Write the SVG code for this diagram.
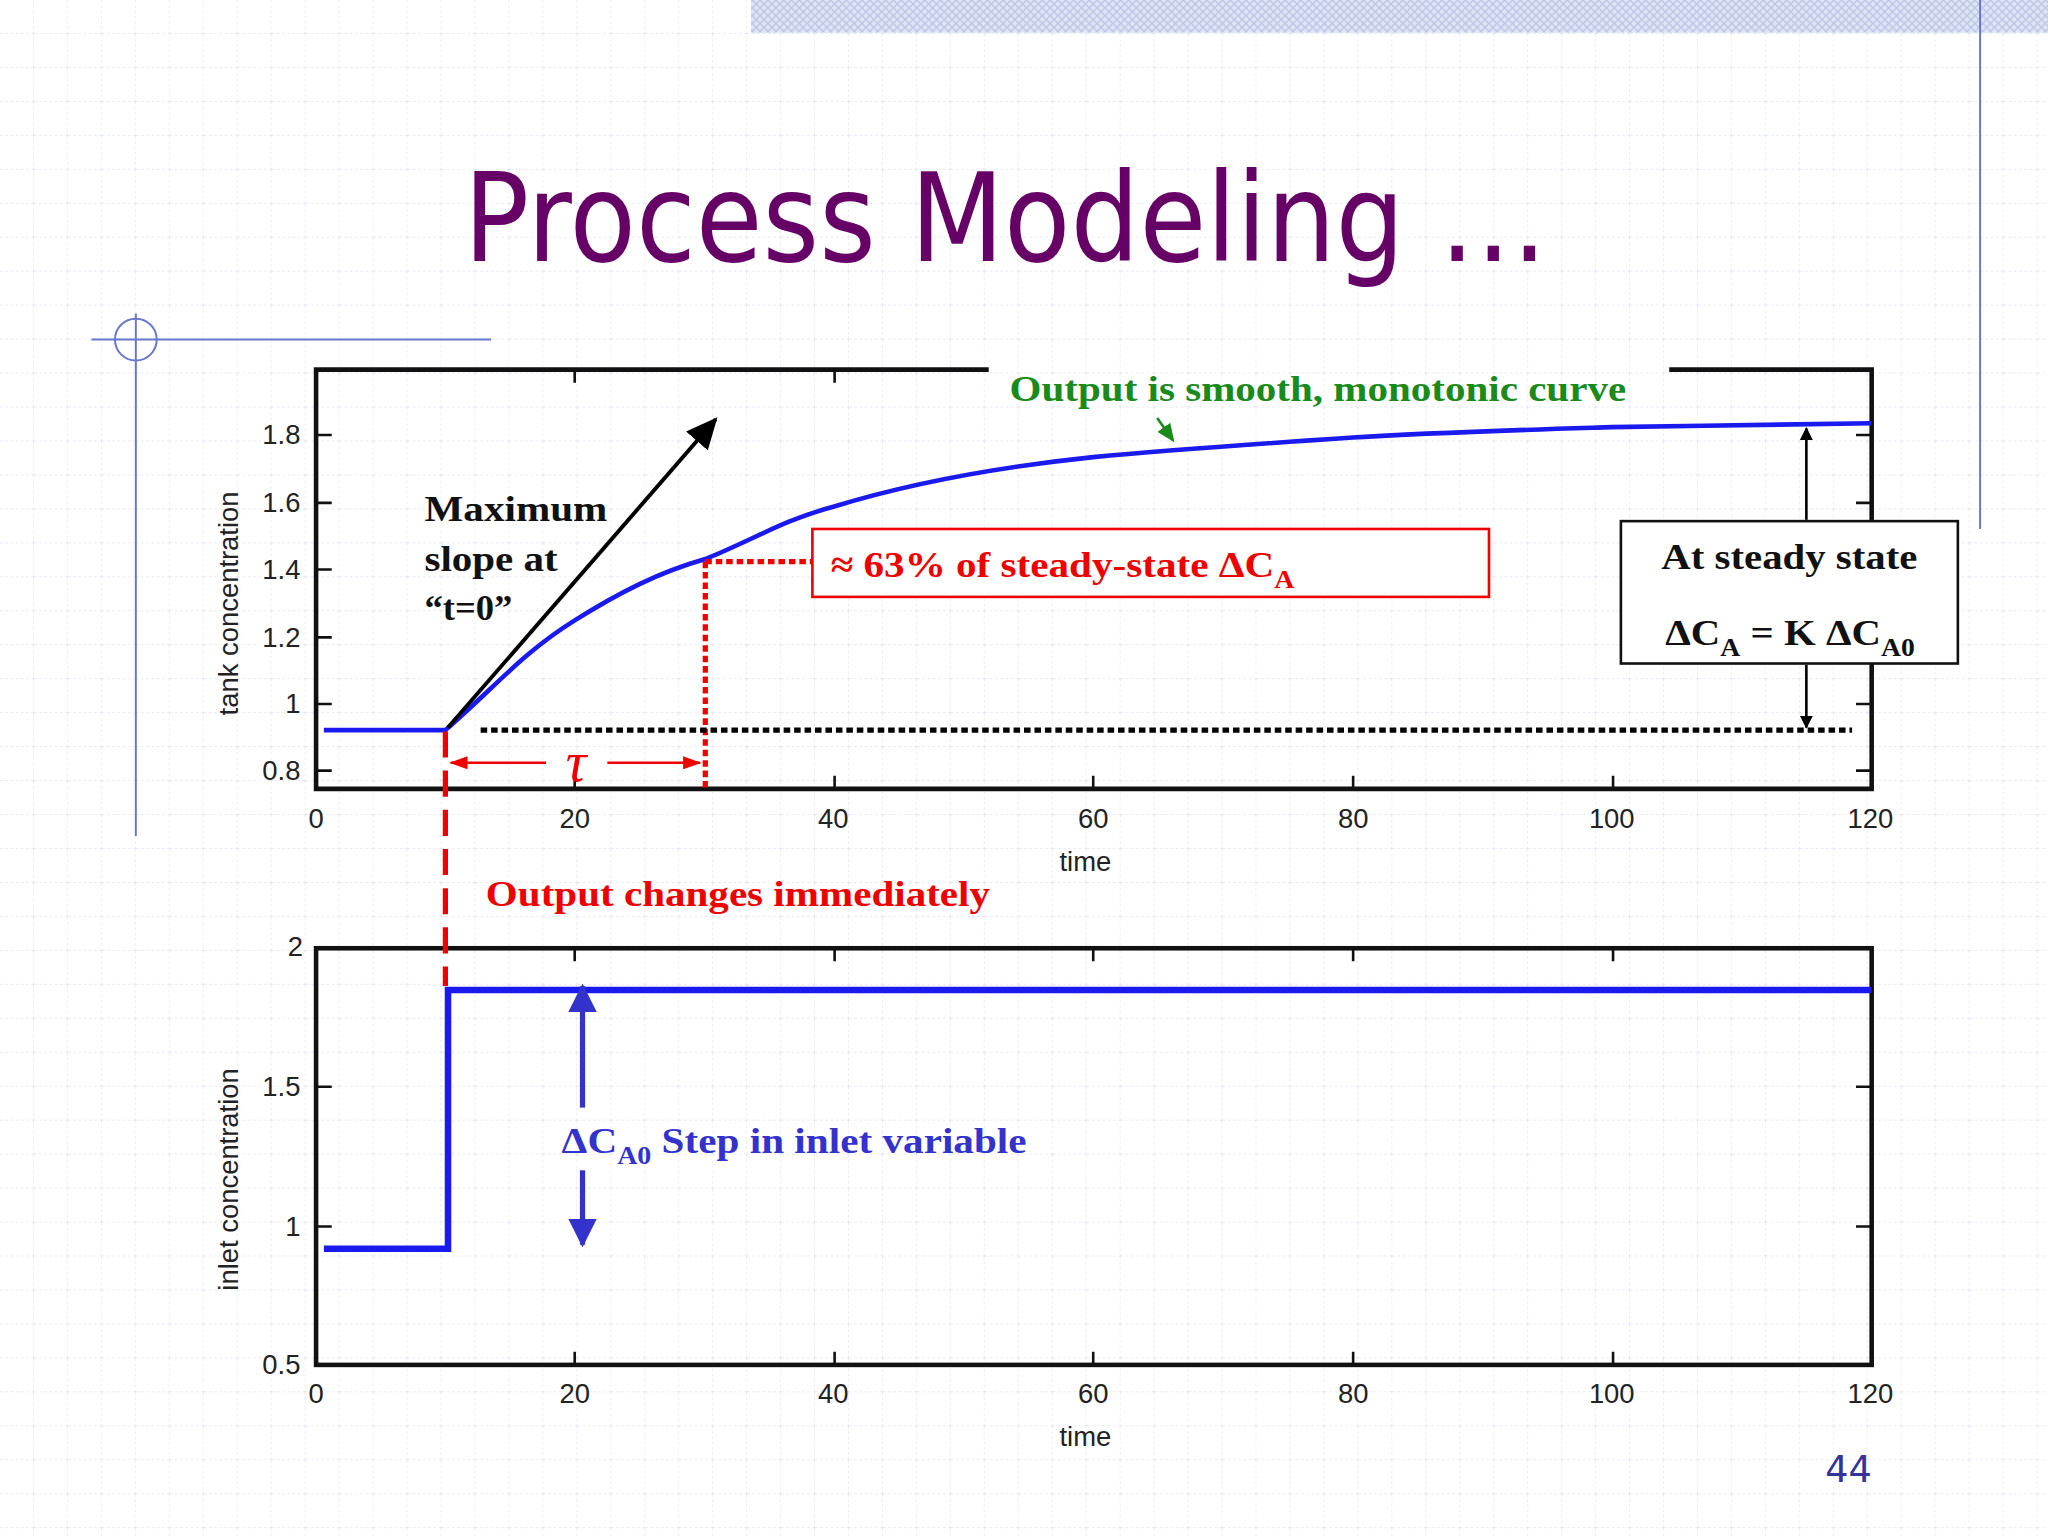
<svg xmlns="http://www.w3.org/2000/svg" width="2048" height="1536" viewBox="0 0 2048 1536">
<defs>
<pattern id="grid" width="26" height="26" patternUnits="userSpaceOnUse"><path d="M26 0V26M0 26H26" stroke="#dde2ef" stroke-width="1" stroke-dasharray="2 2" fill="none"/></pattern>
<pattern id="hatch" width="6" height="6" patternUnits="userSpaceOnUse"><rect width="6" height="6" fill="#dfe5f5"/><path d="M0 0L6 6M6 0L0 6" stroke="#b8c4e6" stroke-width="1"/></pattern>
<marker id="ak" markerWidth="10" markerHeight="10" refX="9" refY="5" orient="auto" markerUnits="userSpaceOnUse"><path d="M0 0L10 5L0 10z" fill="#000"/></marker>
<marker id="ar" markerWidth="14" markerHeight="10" refX="13" refY="5" orient="auto" markerUnits="userSpaceOnUse"><path d="M0 0L14 5L0 10z" fill="#e00"/></marker>
<marker id="ab" markerWidth="22" markerHeight="22" refX="20" refY="11" orient="auto" markerUnits="userSpaceOnUse"><path d="M0 0L22 11L0 22z" fill="#3333cc"/></marker>
<marker id="abig" markerWidth="24" markerHeight="22" refX="22" refY="11" orient="auto" markerUnits="userSpaceOnUse"><path d="M0 0L24 11L0 22z" fill="#000"/></marker>
<marker id="ag" markerWidth="14" markerHeight="12" refX="12" refY="6" orient="auto" markerUnits="userSpaceOnUse"><path d="M0 0L14 6L0 12z" fill="#1a8a1a"/></marker>
</defs>
<style>
.ax{font-family:"Liberation Sans",Arial,sans-serif;font-size:21px;fill:#222}
.s{font-family:"Liberation Serif","Times New Roman",serif;font-weight:bold}
.frame{fill:none;stroke:#111;stroke-width:3.5}
</style>
<rect width="2048" height="1536" fill="#fff"/>
<g transform="scale(1.30612)">
<rect width="1568" height="1176" fill="url(#grid)"/>
<rect x="575" y="0" width="993" height="25" fill="url(#hatch)"/>
<line x1="1516" y1="0" x2="1516" y2="405" stroke="#6677cc" stroke-width="1.5"/>
<g id="deco" stroke="#6677cc" stroke-width="1.5" fill="none"><line x1="70" y1="260" x2="376" y2="260"/><line x1="104" y1="240" x2="104" y2="640"/><circle cx="104" cy="260" r="16"/></g>
<text id="title" x="355" y="200" textLength="830" lengthAdjust="spacingAndGlyphs" font-family="Tahoma,'DejaVu Sans',sans-serif" font-size="94" fill="#660066">Process Modeling …</text>

<g id="plot1">
<path class="frame" d="M757 283H242V604H1433V283H1278"/>
<g stroke="#111" stroke-width="2"><path d="M242 333h12M242 385h12M242 436h12M242 488h12M242 539h12M242 590h12M1433 333h-12M1433 385h-12M1433 436h-12M1433 488h-12M1433 539h-12M1433 590h-12M440 604v-10M639 604v-10M837 604v-10M1036 604v-10M1235 604v-10M440 283v10M639 283v10"/></g>
<g class="ax" text-anchor="end"><text x="230" y="340">1.8</text><text x="230" y="392">1.6</text><text x="230" y="443">1.4</text><text x="230" y="495">1.2</text><text x="230" y="546">1</text><text x="230" y="597">0.8</text></g>
<g class="ax" text-anchor="middle"><text x="242" y="634">0</text><text x="440" y="634">20</text><text x="638" y="634">40</text><text x="837" y="634">60</text><text x="1036" y="634">80</text><text x="1234" y="634">100</text><text x="1432" y="634">120</text><text x="831" y="667">time</text></g>
<text class="ax" transform="translate(182 462) rotate(-90)" text-anchor="middle">tank concentration</text>
<path d="M248 559H341C380 525 400 500 440 475C475 453 505 438 540 428C575 414 600 398 638 388C690 372 760 358 837 350C900 344 960 340 1036 335C1100 331 1170 329 1234 327C1300 326 1380 325 1433 324" fill="none" stroke="#1a1aee" stroke-width="3.5"/>
</g>

<g id="plot2">
<rect class="frame" x="242" y="726" width="1191" height="319"/>
<g stroke="#111" stroke-width="2"><path d="M242 832h12M242 939h12M1433 832h-12M1433 939h-12M440 1045v-10M639 1045v-10M837 1045v-10M1036 1045v-10M1235 1045v-10M440 726v10M639 726v10M837 726v10M1036 726v10M1235 726v10"/></g>
<g class="ax" text-anchor="end"><text x="232" y="732">2</text><text x="230" y="839">1.5</text><text x="230" y="946">1</text><text x="230" y="1052">0.5</text></g>
<g class="ax" text-anchor="middle"><text x="242" y="1074">0</text><text x="440" y="1074">20</text><text x="638" y="1074">40</text><text x="837" y="1074">60</text><text x="1036" y="1074">80</text><text x="1234" y="1074">100</text><text x="1432" y="1074">120</text><text x="831" y="1107">time</text></g>
<text class="ax" transform="translate(182 903) rotate(-90)" text-anchor="middle">inlet concentration</text>
<path d="M248 956H343V758H1433" fill="none" stroke="#1a1aee" stroke-width="5"/>
</g>

<g id="connectors">
<line x1="343" y1="557" x2="548" y2="321" stroke="#000" stroke-width="3" marker-end="url(#abig)"/>
<line x1="540" y1="430" x2="540" y2="604" stroke="#e00" stroke-width="4" stroke-dasharray="5 3"/>
<line x1="540" y1="430" x2="625" y2="430" stroke="#e00" stroke-width="4" stroke-dasharray="5 3"/>
<line x1="341" y1="560" x2="341" y2="755" stroke="#e00" stroke-width="4" stroke-dasharray="20 10"/>
<line x1="418" y1="584" x2="345" y2="584" stroke="#e00" stroke-width="2" marker-end="url(#ar)"/>
<line x1="465" y1="584" x2="536" y2="584" stroke="#e00" stroke-width="2" marker-end="url(#ar)"/>
<line x1="368" y1="559" x2="1418" y2="559" stroke="#000" stroke-width="4" stroke-dasharray="5 3"/>
<line x1="1383" y1="398" x2="1383" y2="328" stroke="#000" stroke-width="2" marker-end="url(#ak)"/>
<line x1="1383" y1="509" x2="1383" y2="557" stroke="#000" stroke-width="2" marker-end="url(#ak)"/>
<line x1="886" y1="320" x2="898" y2="337" stroke="#1a8a1a" stroke-width="2" marker-end="url(#ag)"/>
<line x1="446" y1="848" x2="446" y2="755" stroke="#3333cc" stroke-width="4" marker-end="url(#ab)"/>
<line x1="446" y1="896" x2="446" y2="953" stroke="#3333cc" stroke-width="4" marker-end="url(#ab)"/>
</g>

<g id="labels">
<text class="s" x="773" y="307" textLength="472" lengthAdjust="spacingAndGlyphs" font-size="28" fill="#1a8a1a">Output is smooth, monotonic curve</text>
<text class="s" x="325" y="399" textLength="140" lengthAdjust="spacingAndGlyphs" font-size="28" fill="#111">Maximum</text>
<text class="s" x="325" y="437" textLength="102" lengthAdjust="spacingAndGlyphs" font-size="28" fill="#111">slope at</text>
<text class="s" x="325" y="475" font-size="28" fill="#111">“t=0”</text>
<g id="n63"><rect x="622" y="405" width="518" height="52" fill="#fff" stroke="#e00" stroke-width="2"/>
<text class="s" x="636" y="442" font-size="28" fill="#e00" textLength="355" lengthAdjust="spacingAndGlyphs">≈ 63% of steady-state ΔC<tspan font-size="19" dy="8">A</tspan></text></g>
<g id="nss"><rect x="1241" y="399" width="258" height="109" fill="#fff" stroke="#111" stroke-width="2"/>
<text class="s" x="1272" y="436" textLength="196" lengthAdjust="spacingAndGlyphs" font-size="28" fill="#111">At steady state</text>
<text class="s" x="1275" y="494" font-size="28" fill="#111" textLength="191" lengthAdjust="spacingAndGlyphs">ΔC<tspan font-size="19" dy="8">A</tspan><tspan dy="-8"> = K ΔC</tspan><tspan font-size="19" dy="8">A0</tspan></text></g>
<text x="441" y="598" text-anchor="middle" font-family="'Liberation Serif',serif" font-style="italic" font-size="44" fill="#e00">τ</text>
<text class="s" x="372" y="694" textLength="386" lengthAdjust="spacingAndGlyphs" font-size="28" fill="#e00">Output changes immediately</text>
<text class="s" x="430" y="883" font-size="28" fill="#3333cc" textLength="356" lengthAdjust="spacingAndGlyphs">ΔC<tspan font-size="19" dy="8">A0</tspan><tspan dy="-8"> Step in inlet variable</tspan></text>
<text x="1433" y="1135" text-anchor="end" font-family="Tahoma,'DejaVu Sans',sans-serif" font-size="28" fill="#333399">44</text>
</g>
</g>
</svg>
